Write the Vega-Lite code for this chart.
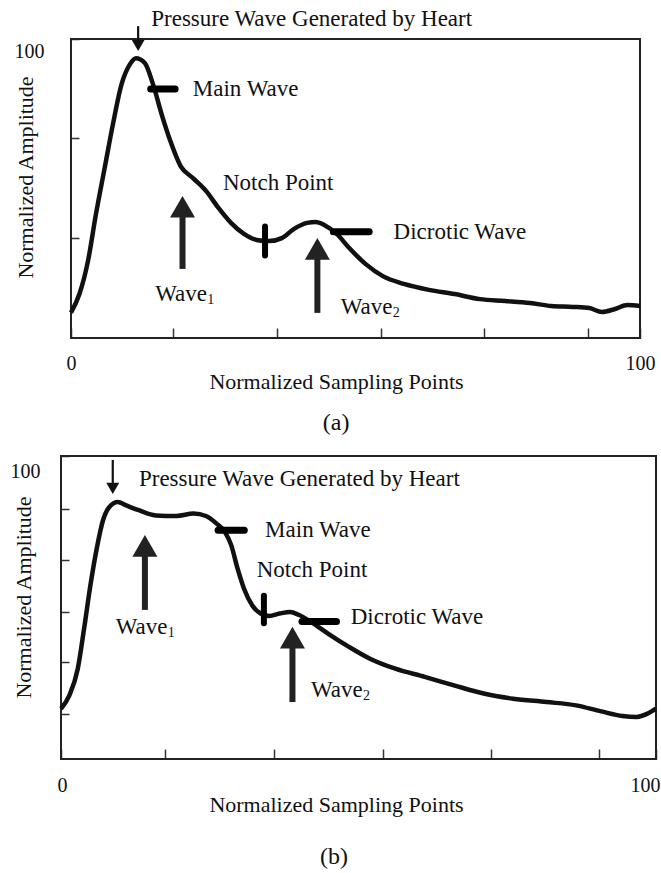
{
  "$schema": "https://vega.github.io/schema/vega-lite/v6.json",
  "padding": {"left": 10, "top": 7, "right": 0, "bottom": 0},
  "spacing": 20,
  "config": {
    "view": {"stroke": null},
    "axis": {"labelFont": "Liberation Serif", "titleFont": "Liberation Serif", "labelColor": "#111", "titleColor": "#111", "tickColor": "#333", "titleFontWeight": "normal", "grid": false, "labelFontSize": 20, "titleFontSize": 22, "tickWidth": 1.5}
  },
  "datasets": {
    "curveA": [
      {"x":0,"y":8.5},{"x":1.48,"y":14.7},{"x":2.99,"y":25.8},{"x":4.39,"y":41.5},{"x":5.92,"y":56.9},{"x":7.38,"y":71.6},{"x":8.89,"y":84.9},{"x":10.37,"y":91.6},{"x":11.42,"y":93.6},{"x":12.97,"y":92.0},{"x":14.41,"y":84.9},{"x":15.92,"y":74.9},{"x":17.4,"y":66.2},{"x":19.26,"y":57.5},{"x":21.44,"y":53.5},{"x":23.73,"y":49.2},{"x":25.92,"y":43.5},{"x":28.12,"y":38.5},{"x":30.4,"y":34.8},{"x":32.6,"y":32.8},{"x":34.8,"y":32.4},{"x":37.05,"y":33.4},{"x":39.2,"y":36.5},{"x":41.5,"y":38.5},{"x":43.0,"y":38.8},{"x":44.5,"y":37.8},{"x":46.7,"y":34.8},{"x":48.9,"y":30.1},{"x":51.8,"y":24.7},{"x":54.8,"y":20.7},{"x":58.5,"y":18.1},{"x":62.9,"y":16.1},{"x":67.4,"y":14.7},{"x":71.9,"y":13.0},{"x":76.3,"y":12.4},{"x":80.7,"y":11.7},{"x":84.4,"y":10.7},{"x":88.2,"y":10.4},{"x":91.1,"y":10.0},{"x":93.3,"y":8.7},{"x":95.6,"y":9.7},{"x":97.8,"y":11.0},{"x":100,"y":10.7}
    ],
    "curveB": [
      {"x":0,"y":16.6},{"x":1.41,"y":21.0},{"x":2.82,"y":29.8},{"x":3.88,"y":43.0},{"x":4.94,"y":57.3},{"x":6.0,"y":69.4},{"x":7.06,"y":78.8},{"x":8.13,"y":83.2},{"x":9.55,"y":84.8},{"x":10.96,"y":83.7},{"x":13.08,"y":82.1},{"x":15.9,"y":80.4},{"x":19.43,"y":80.2},{"x":22.27,"y":81.0},{"x":24.37,"y":80.2},{"x":26.15,"y":77.7},{"x":27.56,"y":74.9},{"x":28.62,"y":70.5},{"x":29.68,"y":62.8},{"x":30.76,"y":56.2},{"x":32.15,"y":50.7},{"x":33.56,"y":48.0},{"x":34.97,"y":47.2},{"x":36.76,"y":48.0},{"x":38.52,"y":48.5},{"x":39.93,"y":47.6},{"x":42.05,"y":45.2},{"x":44.87,"y":41.4},{"x":48.4,"y":37.0},{"x":51.93,"y":33.1},{"x":56.18,"y":29.8},{"x":61.13,"y":27.1},{"x":66.05,"y":24.3},{"x":71.03,"y":21.6},{"x":75.97,"y":19.9},{"x":81.6,"y":18.8},{"x":86.57,"y":17.7},{"x":90.8,"y":15.7},{"x":94.35,"y":14.2},{"x":96.8,"y":13.9},{"x":98.6,"y":15.0},{"x":100,"y":16.6}
    ],
    "annA": [
      {"kind":"text","label":"Pressure Wave Generated by Heart","x":14.1,"y":106.7},
      {"kind":"text","label":"Main Wave","x":21.4,"y":83.3},
      {"kind":"text","label":"Notch Point","x":26.7,"y":51.8},
      {"kind":"text","label":"Dicrotic Wave","x":56.7,"y":35.5},
      {"kind":"text","label":"Wave","sub":"1","x":14.8,"y":14.7},
      {"kind":"text","label":"Wave","sub":"2","x":47.4,"y":10.4},
      {"kind":"hdash","x":14.0,"x2":18.3,"y":83.3},
      {"kind":"hdash","x":46.1,"x2":52.4,"y":35.5},
      {"kind":"vdash","x":34.1,"y":37.3,"y2":27.6},
      {"kind":"up","x":19.6,"y":23.1,"y2":47.5},
      {"kind":"up","x":43.3,"y":8.4,"y2":33.4},
      {"kind":"down","x":11.8,"y":104.3,"y2":96.0}
    ],
    "annB": [
      {"kind":"text","label":"Pressure Wave Generated by Heart","x":13.1,"y":92.5},
      {"kind":"text","label":"Main Wave","x":34.3,"y":75.5},
      {"kind":"text","label":"Notch Point","x":32.9,"y":62.3},
      {"kind":"text","label":"Dicrotic Wave","x":48.7,"y":46.9},
      {"kind":"text","label":"Wave","sub":"1","x":9.2,"y":43.6},
      {"kind":"text","label":"Wave","sub":"2","x":42.0,"y":22.8},
      {"kind":"hdash","x":26.4,"x2":30.8,"y":75.5},
      {"kind":"hdash","x":40.5,"x2":46.3,"y":45.4},
      {"kind":"vdash","x":34.1,"y":53.9,"y2":44.8},
      {"kind":"up","x":14.1,"y":49.2,"y2":73.9},
      {"kind":"up","x":38.9,"y":18.8,"y2":43.6},
      {"kind":"down","x":8.7,"y":98.7,"y2":87.5}
    ]
  },
  "vconcat": [
    {
      "width": 579,
      "height": 299,
      "layer": [
        {
          "data": {"values": [{}]},
          "mark": {"type": "rect", "filled": false, "stroke": "#222", "strokeWidth": 2},
          "encoding": {
            "x": {"datum": 0, "type": "quantitative", "scale": {"domain": [-1.7575, 100], "nice": false, "zero": false},
              "axis": {"title": "Normalized Sampling Points", "values": [0, 18, 36.2, 54.4, 72.6, 90.8, 100], "labelExpr": "datum.value == 0 ? '0' : datum.value == 100 ? '100' : ''", "domain": false, "offset": -10, "tickSize": 10, "labelPadding": 25, "labelBaseline": "middle", "labelFlush": false, "labelOverlap": false, "titleX": 275, "titleY": 53, "titleBaseline": "middle", "titleAlign": "center"}},
            "x2": {"datum": 100},
            "y": {"datum": 0, "type": "quantitative", "scale": {"domain": [0, 100], "nice": false, "zero": false},
              "axis": {"title": "Normalized Amplitude", "values": [33.4, 66.9, 100], "labelExpr": "datum.value == 100 ? '100' : ''", "domain": false, "offset": -18, "tickSize": 8, "labelPadding": 27, "labelOffset": 12, "labelOverlap": false, "titleX": -54, "titleY": 138, "titleBaseline": "middle", "titleAlign": "center", "titleAngle": -90}},
            "y2": {"datum": 100}
          }
        },
        {
          "data": {"name": "curveA"},
          "mark": {"type": "line", "interpolate": "monotone", "strokeWidth": 4.5, "color": "#111"},
          "encoding": {"x": {"field": "x", "type": "quantitative"}, "y": {"field": "y", "type": "quantitative"}}
        },
        {
          "data": {"name": "annA"},
          "transform": [{"filter": "datum.kind == 'text'"}],
          "mark": {"type": "text", "align": "left", "baseline": "middle", "font": "Liberation Serif", "fontSize": 23, "color": "#111"},
          "encoding": {"x": {"field": "x", "type": "quantitative"}, "y": {"field": "y", "type": "quantitative"}, "text": {"field": "label"}}
        },
        {
          "data": {"name": "annA"},
          "transform": [{"filter": "datum.sub"}],
          "mark": {"type": "text", "align": "left", "baseline": "middle", "font": "Liberation Serif", "fontSize": 14, "color": "#111", "dx": 52, "dy": 6},
          "encoding": {"x": {"field": "x", "type": "quantitative"}, "y": {"field": "y", "type": "quantitative"}, "text": {"field": "sub"}}
        },
        {
          "data": {"name": "annA"},
          "transform": [{"filter": "datum.kind == 'hdash'"}],
          "mark": {"type": "rule", "strokeWidth": 7, "strokeCap": "round", "color": "#000"},
          "encoding": {"x": {"field": "x", "type": "quantitative"}, "x2": {"field": "x2"}, "y": {"field": "y", "type": "quantitative"}}
        },
        {
          "data": {"name": "annA"},
          "transform": [{"filter": "datum.kind == 'vdash'"}],
          "mark": {"type": "rule", "strokeWidth": 6, "strokeCap": "round", "color": "#000"},
          "encoding": {"x": {"field": "x", "type": "quantitative"}, "y": {"field": "y", "type": "quantitative"}, "y2": {"field": "y2"}}
        },
        {
          "data": {"name": "annA"},
          "transform": [{"filter": "datum.kind == 'up'"}],
          "mark": {"type": "rule", "strokeWidth": 6, "color": "#222", "y2Offset": 12},
          "encoding": {"x": {"field": "x", "type": "quantitative"}, "y": {"field": "y", "type": "quantitative"}, "y2": {"field": "y2"}}
        },
        {
          "data": {"name": "annA"},
          "transform": [{"filter": "datum.kind == 'up'"}],
          "mark": {"type": "point", "shape": "triangle-up", "size": 625, "filled": true, "opacity": 1, "color": "#222", "yOffset": 10.8},
          "encoding": {"x": {"field": "x", "type": "quantitative"}, "y": {"field": "y2", "type": "quantitative"}}
        },
        {
          "data": {"name": "annA"},
          "transform": [{"filter": "datum.kind == 'down'"}],
          "mark": {"type": "rule", "strokeWidth": 2.2, "color": "#111", "y2Offset": -5},
          "encoding": {"x": {"field": "x", "type": "quantitative"}, "y": {"field": "y", "type": "quantitative"}, "y2": {"field": "y2"}}
        },
        {
          "data": {"name": "annA"},
          "transform": [{"filter": "datum.kind == 'down'"}],
          "mark": {"type": "point", "shape": "triangle-down", "size": 169, "filled": true, "opacity": 1, "color": "#111", "yOffset": -5.6},
          "encoding": {"x": {"field": "x", "type": "quantitative"}, "y": {"field": "y2", "type": "quantitative"}}
        },
        {
          "data": {"values": [{}]},
          "mark": {"type": "text", "align": "center", "baseline": "middle", "font": "Liberation Serif", "fontSize": 24, "color": "#111"},
          "encoding": {"x": {"datum": 46.6, "type": "quantitative"}, "y": {"datum": -28.4, "type": "quantitative"}, "text": {"value": "(a)"}}
        }
      ]
    },
    {
      "width": 595,
      "height": 303,
      "layer": [
        {
          "data": {"values": [{}]},
          "mark": {"type": "rect", "filled": false, "stroke": "#222", "strokeWidth": 2},
          "encoding": {
            "x": {"datum": 0, "type": "quantitative", "scale": {"domain": [0, 100], "nice": false, "zero": false},
              "axis": {"title": "Normalized Sampling Points", "values": [0, 17.5, 35.8, 54.1, 72.3, 90.5, 100], "labelExpr": "datum.value == 0 ? '0' : datum.value == 100 ? '100' : ''", "domain": false, "offset": -10, "tickSize": 10, "labelPadding": 26, "labelBaseline": "middle", "labelFlush": true, "labelFlushOffset": 4, "labelOverlap": false, "titleX": 275, "titleY": 55, "titleBaseline": "middle", "titleAlign": "center"}},
            "x2": {"datum": 100},
            "y": {"datum": 0, "type": "quantitative", "scale": {"domain": [0, 100], "nice": false, "zero": false},
              "axis": {"title": "Normalized Amplitude", "values": [15.0, 32.0, 48.5, 65.7, 82.6, 100], "labelExpr": "datum.value == 100 ? '100' : ''", "domain": false, "offset": -8, "tickSize": 8, "labelPadding": 21, "labelOffset": 15, "labelOverlap": false, "titleX": -46, "titleY": 141, "titleBaseline": "middle", "titleAlign": "center", "titleAngle": -90}},
            "y2": {"datum": 100}
          }
        },
        {
          "data": {"name": "curveB"},
          "mark": {"type": "line", "interpolate": "monotone", "strokeWidth": 4.5, "color": "#111"},
          "encoding": {"x": {"field": "x", "type": "quantitative"}, "y": {"field": "y", "type": "quantitative"}}
        },
        {
          "data": {"name": "annB"},
          "transform": [{"filter": "datum.kind == 'text'"}],
          "mark": {"type": "text", "align": "left", "baseline": "middle", "font": "Liberation Serif", "fontSize": 23, "color": "#111"},
          "encoding": {"x": {"field": "x", "type": "quantitative"}, "y": {"field": "y", "type": "quantitative"}, "text": {"field": "label"}}
        },
        {
          "data": {"name": "annB"},
          "transform": [{"filter": "datum.sub"}],
          "mark": {"type": "text", "align": "left", "baseline": "middle", "font": "Liberation Serif", "fontSize": 14, "color": "#111", "dx": 52, "dy": 6},
          "encoding": {"x": {"field": "x", "type": "quantitative"}, "y": {"field": "y", "type": "quantitative"}, "text": {"field": "sub"}}
        },
        {
          "data": {"name": "annB"},
          "transform": [{"filter": "datum.kind == 'hdash'"}],
          "mark": {"type": "rule", "strokeWidth": 7, "strokeCap": "round", "color": "#000"},
          "encoding": {"x": {"field": "x", "type": "quantitative"}, "x2": {"field": "x2"}, "y": {"field": "y", "type": "quantitative"}}
        },
        {
          "data": {"name": "annB"},
          "transform": [{"filter": "datum.kind == 'vdash'"}],
          "mark": {"type": "rule", "strokeWidth": 6, "strokeCap": "round", "color": "#000"},
          "encoding": {"x": {"field": "x", "type": "quantitative"}, "y": {"field": "y", "type": "quantitative"}, "y2": {"field": "y2"}}
        },
        {
          "data": {"name": "annB"},
          "transform": [{"filter": "datum.kind == 'up'"}],
          "mark": {"type": "rule", "strokeWidth": 6, "color": "#222", "y2Offset": 12},
          "encoding": {"x": {"field": "x", "type": "quantitative"}, "y": {"field": "y", "type": "quantitative"}, "y2": {"field": "y2"}}
        },
        {
          "data": {"name": "annB"},
          "transform": [{"filter": "datum.kind == 'up'"}],
          "mark": {"type": "point", "shape": "triangle-up", "size": 625, "filled": true, "opacity": 1, "color": "#222", "yOffset": 10.8},
          "encoding": {"x": {"field": "x", "type": "quantitative"}, "y": {"field": "y2", "type": "quantitative"}}
        },
        {
          "data": {"name": "annB"},
          "transform": [{"filter": "datum.kind == 'down'"}],
          "mark": {"type": "rule", "strokeWidth": 2.2, "color": "#111", "y2Offset": -5},
          "encoding": {"x": {"field": "x", "type": "quantitative"}, "y": {"field": "y", "type": "quantitative"}, "y2": {"field": "y2"}}
        },
        {
          "data": {"name": "annB"},
          "transform": [{"filter": "datum.kind == 'down'"}],
          "mark": {"type": "point", "shape": "triangle-down", "size": 169, "filled": true, "opacity": 1, "color": "#111", "yOffset": -5.6},
          "encoding": {"x": {"field": "x", "type": "quantitative"}, "y": {"field": "y2", "type": "quantitative"}}
        },
        {
          "data": {"values": [{}]},
          "mark": {"type": "text", "align": "center", "baseline": "middle", "font": "Liberation Serif", "fontSize": 24, "color": "#111"},
          "encoding": {"x": {"datum": 45.9, "type": "quantitative"}, "y": {"datum": -32.3, "type": "quantitative"}, "text": {"value": "(b)"}}
        }
      ]
    }
  ]
}
